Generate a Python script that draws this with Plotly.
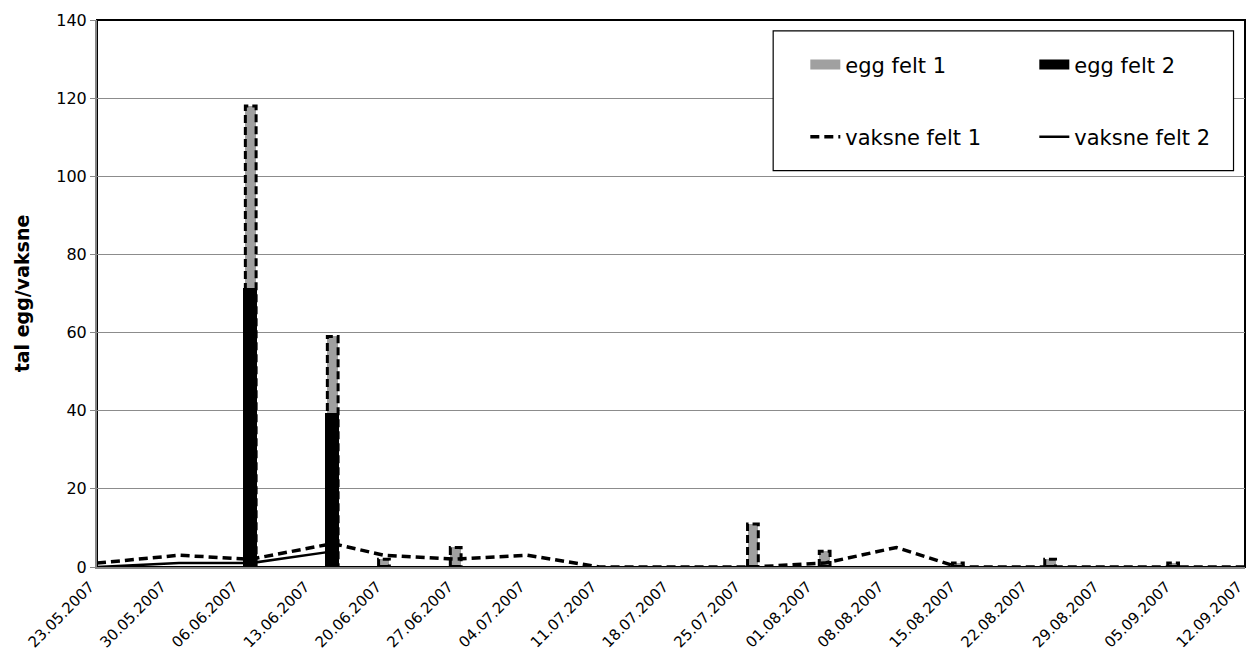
import pandas as pd
import plotly.graph_objects as go

# ---- data ----
egg_dates = ["2007-06-07", "2007-06-15", "2007-06-20", "2007-06-27", "2007-07-26",
             "2007-08-02", "2007-08-15", "2007-08-24", "2007-09-05"]
egg_felt_1 = [118, 59, 2, 5, 11, 4, 1, 2, 1]
egg_felt_2 = [71, 39, 0, 0, 0, 0, 0, 0, 0]

vaksne1_dates = ["2007-05-23", "2007-05-31", "2007-06-07", "2007-06-15", "2007-06-20",
                 "2007-06-27", "2007-07-04", "2007-07-11", "2007-07-18", "2007-07-26",
                 "2007-08-02", "2007-08-09", "2007-08-15", "2007-08-24", "2007-09-05",
                 "2007-09-12"]
vaksne_felt_1 = [1, 3, 2, 6, 3, 2, 3, 0, 0, 0, 1, 5, 0, 0, 0, 0]

vaksne2_dates = ["2007-05-23", "2007-05-31", "2007-06-07", "2007-06-15"]
vaksne_felt_2 = [0, 1, 1, 4]

tick_dates = pd.date_range("2007-05-23", "2007-09-12", freq="7D")
tick_labels = [d.strftime("%d.%m.%Y") for d in tick_dates]

FONT = "DejaVu Sans"
bar_days = 1.05
bar_ms = bar_days * 86400000
GRAY = "#a0a0a0"

fig = go.Figure()

# egg felt 1: gray bars
fig.add_trace(go.Bar(
    x=egg_dates, y=egg_felt_1, name="egg felt 1", width=bar_ms,
    marker=dict(color=GRAY, line=dict(width=0)), showlegend=False,
))
# egg felt 2: black bars
fig.add_trace(go.Bar(
    x=egg_dates, y=egg_felt_2, name="egg felt 2", width=bar_ms,
    marker=dict(color="black", line=dict(color="black", width=3)), showlegend=False,
))

# dashed outline of egg felt 1 bars (derived from data)
ox, oy = [], []
half = pd.Timedelta(days=bar_days / 2)
for d, v in zip(pd.to_datetime(egg_dates), egg_felt_1):
    ox += [d - half, d - half, d + half, d + half, d - half, None]
    oy += [0, v, v, 0, 0, None]
fig.add_trace(go.Scatter(
    x=ox, y=oy, mode="lines", showlegend=False, hoverinfo="skip",
    line=dict(color="black", width=3, dash="8px,4px"),
))

# legend proxies for bar series (wide rectangle icons)
fig.add_trace(go.Scatter(
    x=[None], y=[None], mode="lines", name="egg felt 1",
    line=dict(color=GRAY, width=13), legend="legend",
))
fig.add_trace(go.Scatter(
    x=[None], y=[None], mode="lines", name="egg felt 2",
    line=dict(color="black", width=13), legend="legend",
))

fig.add_trace(go.Scatter(
    x=vaksne1_dates, y=vaksne_felt_1, name="vaksne felt 1", mode="lines",
    line=dict(color="black", width=3.5, dash="9px,5px"),
    legend="legend2",
))
fig.add_trace(go.Scatter(
    x=vaksne2_dates, y=vaksne_felt_2, name="vaksne felt 2", mode="lines",
    line=dict(color="black", width=2.5),
    legend="legend2",
))

legend_common = dict(
    orientation="h", xanchor="left", yanchor="middle",
    font=dict(family=FONT, size=21, color="black"),
    bgcolor="rgba(0,0,0,0)", borderwidth=0,
    entrywidth=184, entrywidthmode="pixels", traceorder="normal",
)

fig.update_layout(
    width=1250, height=671,
    margin=dict(l=97, r=5, t=20, b=104, autoexpand=False),
    paper_bgcolor="white", plot_bgcolor="white",
    barmode="overlay", bargap=0,
    font=dict(family=FONT, color="black"),
    legend=dict(x=0.617, y=0.918, **legend_common),
    legend2=dict(x=0.617, y=0.786, **legend_common),
    xaxis=dict(
        type="date", range=["2007-05-23", "2007-09-12 00:20"],
        tickmode="array", tickvals=tick_dates, ticktext=tick_labels,
        tickangle=-45, tickfont=dict(family=FONT, size=15, color="black"),
        ticklabeloverflow="allow", ticklabelshift=-7, ticklabelstandoff=3,
        showgrid=False, showline=True, linecolor="#868686", linewidth=2,
        ticks="", zeroline=False, automargin=False,
    ),
    yaxis=dict(
        range=[0, 140], dtick=20, tick0=0,
        tickfont=dict(family=FONT, size=16, color="black"),
        showgrid=True, gridcolor="#8c8c8c", gridwidth=1,
        showline=True, linecolor="#868686", linewidth=2,
        ticks="outside", ticklen=5, tickcolor="#868686",
        zeroline=False, automargin=False,
        title=dict(text="<b>tal egg/vaksne</b>", font=dict(family=FONT, size=19, color="black"),
                   standoff=22),
    ),
    shapes=[
        dict(type="rect", xref="paper", yref="paper", x0=0, x1=1, y0=0, y1=1,
             line=dict(color="black", width=2), layer="below"),
        dict(type="rect", xref="paper", yref="paper", x0=0.589, x1=0.990, y0=0.7245, y1=0.980,
             line=dict(color="black", width=1.2), fillcolor="white", layer="above"),
    ],
)

fig.write_html("out.html")
